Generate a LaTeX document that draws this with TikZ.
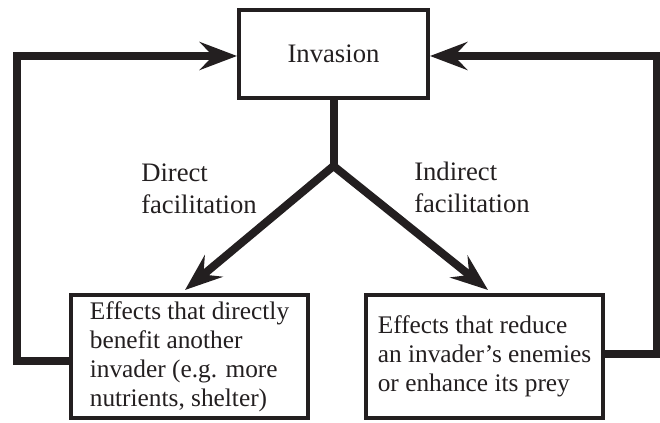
\documentclass[tikz,border=0pt]{standalone}
\usepackage{fontspec}
\setmainfont{Liberation Serif}
\usetikzlibrary{arrows.meta}
\definecolor{ink}{HTML}{231F20}
\begin{document}
\begin{tikzpicture}[x=0.75pt,y=-0.75pt,
  box/.style={draw=ink,line width=3pt,inner sep=0pt,text=ink,align=left,
    font=\fontsize{19pt}{21.75pt}\selectfont},
  lbl/.style={inner sep=0pt,text=ink,align=left,anchor=north west,
    font=\fontsize{20pt}{24pt}\selectfont},
  conn/.style={draw=ink,line width=6pt},
  tip/.style={-{Stealth[length=28pt,width=21pt,inset=10pt]}}]
\useasboundingbox (0,0) rectangle (660,423);
\node[box,minimum width=141.75pt,minimum height=66pt,font=\fontsize{20pt}{22pt}\selectfont] (inv) at (333.5,54) {Invasion};
\node[box,minimum width=177.75pt,minimum height=92.25pt] (lbox) at (189.5,356.5)
  {Effects that directly\\benefit another\\invader (e.g. more\\nutrients, shelter)};
\node[box,minimum width=177.75pt,minimum height=92.25pt] (rbox) at (484.5,356.5)
  {Effects that reduce\\an invader’s enemies\\or enhance its prey};
\node[lbl] (dlab) at (141,164) {Direct\\facilitation};
\node[lbl] (ilab) at (414,162) {Indirect\\facilitation};
\coordinate (split) at (333.5,166);
\coordinate (tl) at (185,290);
\coordinate (tr) at (488,290);
\coordinate (lb) at (16.5,361);
\coordinate (lt) at (16.5,56);
\coordinate (rb) at (656.5,354);
\coordinate (rt) at (656.5,56);
\draw[conn] (inv.south) -- (split);
\draw[conn,tip] (split) -- (tl);
\draw[conn,tip] (split) -- (tr);
\draw[conn,tip] (lbox.west |- lb) -- (lb) -- (lt) -- (inv.west |- lt);
\draw[conn,tip] (rbox.east |- rb) -- (rb) -- (rt) -- (inv.east |- rt);
\end{tikzpicture}
\end{document}
